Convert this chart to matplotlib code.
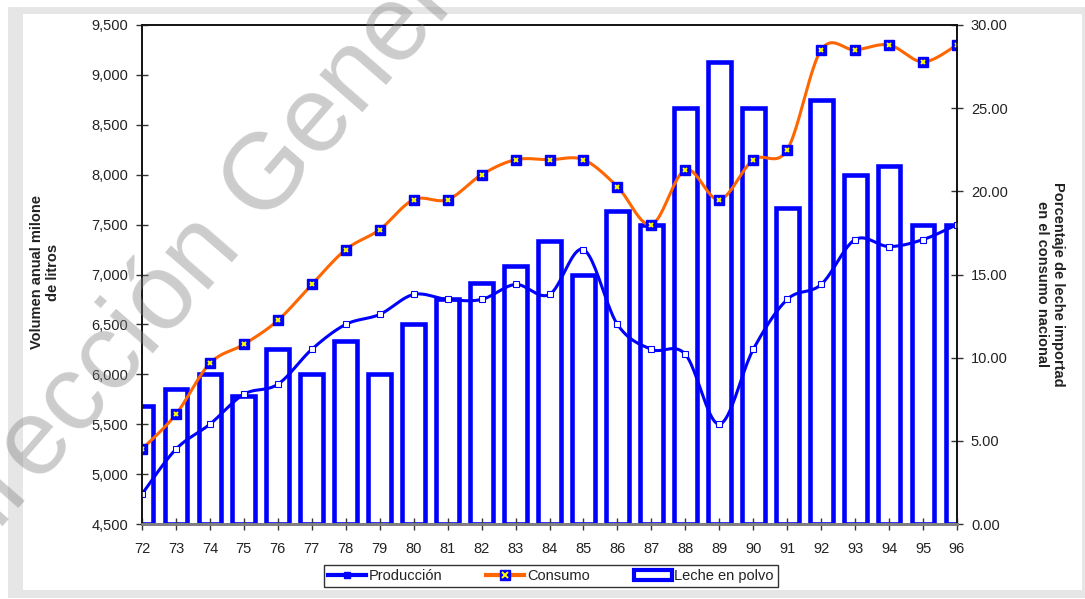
import matplotlib
matplotlib.use('Agg')
import matplotlib.pyplot as plt
from matplotlib.patches import Rectangle, Patch
from matplotlib.lines import Line2D
from matplotlib.ticker import FuncFormatter
import numpy as np

plt.rcParams['font.family'] = ['Liberation Sans', 'DejaVu Sans']

years = ['72', '73', '74', '75', '76', '77', '78', '79', '80', '81', '82', '83',
         '84', '85', '86', '87', '88', '89', '90', '91', '92', '93', '94', '95', '96']
produccion = [4800, 5250, 5500, 5800, 5900, 6250, 6500, 6600, 6800, 6750, 6750, 6900,
              6800, 7250, 6500, 6250, 6200, 5500, 6250, 6750, 6900, 7350, 7280, 7350, 7500]
consumo = [5250, 5600, 6110, 6300, 6540, 6900, 7250, 7450, 7750, 7750, 8000, 8150,
           8150, 8150, 7880, 7500, 8050, 7750, 8150, 8250, 9250, 9250, 9300, 9130, 9300]
leche_polvo = [7.1, 8.1, 9.0, 7.7, 10.5, 9.0, 11.0, 9.0, 12.0, 13.5, 14.5, 15.5,
               17.0, 15.0, 18.8, 18.0, 25.0, 27.8, 25.0, 19.0, 25.5, 21.0, 21.5, 18.0, 18.0]

BLUE = '#0000FF'
ORANGE = '#FF6600'
TXT = '#222222'


def smooth(x, y, n=24):
    # Excel-style smoothed line (Bezier through points, Catmull-Rom tangents)
    p = np.column_stack([x, y]).astype(float)
    out = []
    for i in range(len(p) - 1):
        p0 = p[i - 1] if i > 0 else p[i]
        p1, p2 = p[i], p[i + 1]
        p3 = p[i + 2] if i + 2 < len(p) else p[i + 1]
        c1 = p1 + (p2 - p0) / 6
        c2 = p2 - (p3 - p1) / 6
        t = np.linspace(0, 1, n)[:, None]
        seg = ((1 - t) ** 3) * p1 + 3 * ((1 - t) ** 2) * t * c1 + 3 * (1 - t) * t ** 2 * c2 + t ** 3 * p2
        out.append(seg if i == 0 else seg[1:])
    s = np.vstack(out)
    return s[:, 0], s[:, 1]


fig = plt.figure(figsize=(10.85, 5.99), dpi=100)
fig.patch.set_facecolor('white')
fig.patches.append(Rectangle((8 / 1085, 1 - 598 / 599), 1077 / 1085, 591 / 599,
                             transform=fig.transFigure, facecolor='#e6e6e6', edgecolor='none', zorder=-10))
fig.patches.append(Rectangle((23 / 1085, 1 - 590 / 599), 1059 / 1085, 576 / 599,
                             transform=fig.transFigure, facecolor='white', edgecolor='none', zorder=-9))

axL = fig.add_axes([142 / 1085, 1 - 524 / 599, 815 / 1085, 499 / 599])
axR = axL.twinx()
axL.set_zorder(3)
axL.patch.set_visible(False)
axR.patch.set_visible(False)

x = np.arange(len(years))
axR.bar(x, leche_polvo, width=0.67, facecolor='white', edgecolor=BLUE, linewidth=3.3,
        label='Leche en polvo')

sx, sy = smooth(x, produccion)
axL.plot(sx, sy, color=BLUE, lw=2.2, solid_capstyle='round')
axL.plot(x, produccion, ls='none', marker='s', ms=4, mfc='white', mec=BLUE, mew=0.8)

sx, sy = smooth(x, consumo)
axL.plot(sx, sy, color=ORANGE, lw=2.2, solid_capstyle='round')
axL.plot(x, consumo, ls='none', marker='s', ms=6.5, mfc=BLUE, mec=BLUE)
axL.plot(x, consumo, ls='none', marker='x', ms=3.5, mec='#FFFF00', mew=1.4)

axL.set_xlim(0, len(years) - 1)
axL.set_ylim(4500, 9500)
axR.set_ylim(0, 30)
axL.set_yticks(np.arange(4500, 9501, 500))
axR.set_yticks(np.arange(0, 30.1, 5))
axL.yaxis.set_major_formatter(FuncFormatter(lambda v, p: f'{v:,.0f}'))
axR.yaxis.set_major_formatter(FuncFormatter(lambda v, p: f'{v:.2f}'))
axL.set_xticks(x)
axL.set_xticklabels(years)

for a in (axL, axR):
    a.tick_params(direction='inout', length=8, width=1, colors='#333333', labelcolor=TXT,
                  labelsize=10.5, pad=6)
    for s in a.spines.values():
        s.set_linewidth(1.2)
        s.set_color('#111111')
    a.spines['bottom'].set_color('#808080')
    a.spines['bottom'].set_linewidth(2)
axL.tick_params(axis='x', pad=9)

fig.text(45 / 1085, 1 - 272 / 599, 'Volumen anual milone\nde litros', rotation=90,
         ha='center', va='center', fontsize=10.5, fontweight='bold', color=TXT,
         multialignment='center')
fig.text(1050 / 1085, 1 - 284 / 599, 'Porcentaje de leche importad\nen el consumo nacional',
         rotation=270, ha='center', va='center', fontsize=10.5, fontweight='bold', color=TXT,
         multialignment='center')

handles = [
    Line2D([], [], color=BLUE, lw=3, marker='s', ms=4, mfc=BLUE, mec=BLUE),
    (Line2D([], [], color=ORANGE, lw=3, marker='s', ms=7, mfc=BLUE, mec=BLUE),
     Line2D([], [], ls='none', marker='x', ms=4, mec='#FFFF00', mew=1.4)),
    Patch(facecolor='white', edgecolor=BLUE, linewidth=3),
]
leg = fig.legend(handles, ['Producción', 'Consumo', 'Leche en polvo'], loc='center',
                 bbox_to_anchor=(551 / 1085, 1 - 576 / 599), ncol=3, fontsize=10.5,
                 frameon=True, fancybox=False, edgecolor='black', borderpad=0.25,
                 handlelength=2.6, handletextpad=0.2, columnspacing=3.0)
leg.get_frame().set_linewidth(1)
for t in leg.get_texts():
    t.set_color(TXT)

# watermark
fig.text(232 / 1085, 1 - 263 / 599, 'Dirección General', rotation=49, rotation_mode='anchor',
         ha='center', va='baseline', fontsize=78, color='#808080', alpha=0.4, zorder=10)

fig.savefig('out.png', dpi=100)
